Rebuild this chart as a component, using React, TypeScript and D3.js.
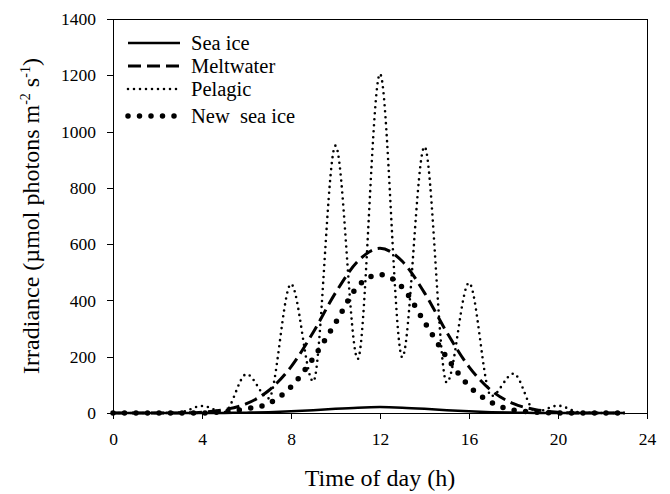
import * as d3 from "d3";
import { useEffect, useRef } from "react";

// hourly values
const hours = [0, 1, 2, 3, 4, 5, 6, 7, 8, 9, 10, 11, 12, 13, 14, 15, 16, 17, 18, 19, 20, 21, 22, 23];
const seaIce = [0, 0, 0, 0, 0, 0.4, 1.2, 3, 6, 10, 15, 19, 21, 19, 15, 10, 6, 3, 1.2, 0.4, 0, 0, 0, 0];
const meltwater = [0, 0, 0, 0, 3, 12, 33, 80, 164, 287, 427, 539, 585, 539, 427, 287, 164, 80, 33, 12, 3, 0, 0, 0];
const pelagic = [0, 0, 0, 2, 25, 3, 138, 52, 458, 112, 950, 192, 1205, 198, 946, 108, 462, 60, 140, 4, 26, 2, 0, 0];
const newSeaIce = [0, 0, 0, 0, 0, 5, 15, 34, 93, 195, 320, 450, 492, 447, 323, 198, 96, 38, 10, 3, 0, 0, 0, 0];

const seriesNames = ["Sea ice", "Meltwater", "Pelagic", "New  sea ice"];
const xTicks = [0, 4, 8, 12, 16, 20, 24];
const yTicks = [0, 200, 400, 600, 800, 1000, 1200, 1400];

const styles = [
  { width: 2.5, dash: null, cap: "butt" },
  { width: 3, dash: "13 6", cap: "butt" },
  { width: 2.6, dash: "0 6", cap: "round" },
  { width: 5.5, dash: "0 11.5", cap: "round" },
];

const W = 670;
const H = 494;
const margin = { top: 19, right: 23, bottom: 81, left: 113 };
const font = "'Liberation Serif', 'Times New Roman', serif";

export default function App() {
  const ref = useRef(null);

  useEffect(() => {
    const svg = d3.select(ref.current);
    svg.selectAll("*").remove();

    const x = d3.scaleLinear().domain([0, 24]).range([margin.left, W - margin.right]);
    const y = d3.scaleLinear().domain([0, 1400]).range([H - margin.bottom, margin.top]);

    // frame (top + right)
    svg.append("line")
      .attr("x1", x(0)).attr("x2", x(24)).attr("y1", y(1400)).attr("y2", y(1400))
      .attr("stroke", "#000").attr("shape-rendering", "crispEdges");
    svg.append("line")
      .attr("x1", x(24)).attr("x2", x(24)).attr("y1", y(1400)).attr("y2", y(0))
      .attr("stroke", "#000").attr("shape-rendering", "crispEdges");

    const xAxis = svg.append("g")
      .attr("transform", `translate(0,${y(0)})`)
      .call(d3.axisBottom(x).tickValues(xTicks).tickFormat(d3.format("d")).tickSize(6).tickSizeOuter(0).tickPadding(14));
    const yAxis = svg.append("g")
      .attr("transform", `translate(${x(0)},0)`)
      .call(d3.axisLeft(y).tickValues(yTicks).tickFormat(d3.format("d")).tickSize(6).tickSizeOuter(0).tickPadding(11));

    [xAxis, yAxis].forEach((g) => {
      g.attr("font-family", null).attr("font-size", null);
      g.selectAll("path, line").attr("stroke", "#000").attr("shape-rendering", "crispEdges");
      g.selectAll("text")
        .attr("fill", "#000")
        .style("font-family", font)
        .style("font-size", "17.5px");
    });

    const all = [seaIce, meltwater, pelagic, newSeaIce];
    const line = d3.line()
      .x((d, i) => x(hours[i]))
      .y((d) => y(d))
      .curve(d3.curveMonotoneX);

    all.forEach((vals, k) => {
      const s = styles[k];
      const p = svg.append("path")
        .attr("d", line(vals))
        .attr("fill", "none")
        .attr("stroke", "#000")
        .attr("stroke-width", s.width)
        .attr("stroke-linecap", s.cap);
      if (s.dash) p.attr("stroke-dasharray", s.dash);
    });

    // legend
    const leg = svg.append("g");
    const rowY = [43, 66, 89, 116];
    seriesNames.forEach((name, k) => {
      const s = styles[k];
      const l = leg.append("line")
        .attr("x1", 128).attr("x2", 180)
        .attr("y1", rowY[k]).attr("y2", rowY[k])
        .attr("stroke", "#000")
        .attr("stroke-width", s.width)
        .attr("stroke-linecap", s.cap);
      if (s.dash) l.attr("stroke-dasharray", s.dash);
      leg.append("text")
        .attr("x", 191).attr("y", rowY[k] + 7)
        .style("font-family", font)
        .style("font-size", "20.5px")
        .style("white-space", "pre")
        .text(name);
    });

    // axis titles
    svg.append("text")
      .attr("x", (x(0) + x(24)) / 2).attr("y", 486)
      .attr("text-anchor", "middle")
      .style("font-family", font).style("font-size", "24px")
      .text("Time of day (h)");

    const yt = svg.append("text")
      .attr("transform", `translate(39,${(y(0) + y(1400)) / 2}) rotate(-90)`)
      .attr("text-anchor", "middle")
      .style("font-family", font).style("font-size", "24px");
    yt.append("tspan").text("Irradiance (µmol photons m");
    yt.append("tspan").style("font-size", "14px").attr("dy", -9).text("-2");
    yt.append("tspan").attr("dy", 9).text(" s");
    yt.append("tspan").style("font-size", "14px").attr("dy", -9).text("-1");
    yt.append("tspan").attr("dy", 9).text(")");
  }, []);

  return (
    <div>
      <style>{`body{margin:0}`}</style>
      <svg ref={ref} width={W} height={H} style={{ display: "block", background: "#fff" }}></svg>
    </div>
  );
}
